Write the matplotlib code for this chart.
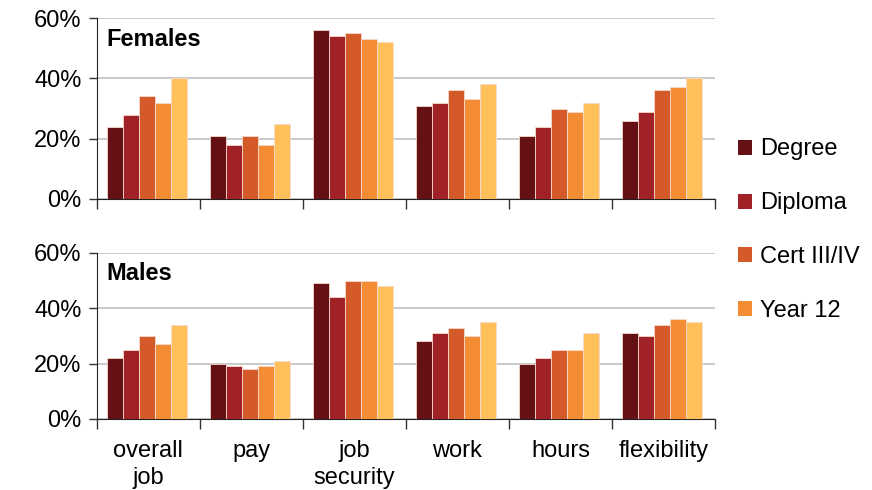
import numpy as np
import matplotlib.pyplot as plt
from matplotlib.patches import Patch

plt.rcParams['font.family'] = ['Liberation Sans', 'DejaVu Sans']

categories = ['overall\njob', 'pay', 'job\nsecurity', 'work', 'hours', 'flexibility']
series = ['Degree', 'Diploma', 'Cert III/IV', 'Year 12', 'Year 11 or below']
colors = ['#641015', '#a02126', '#d45a2a', '#f48c34', '#ffc05c']

# valeurs (%)
females = [
    [24, 21, 56, 31, 21, 26],   # Degree
    [28, 18, 54, 32, 24, 29],   # Diploma
    [34, 21, 55, 36, 30, 36],   # Cert III/IV
    [32, 18, 53, 33, 29, 37],   # Year 12
    [40, 25, 52, 38, 32, 40],   # Year 11 or below
]
males = [
    [22, 20, 49, 28, 20, 31],
    [25, 19, 44, 31, 22, 30],
    [30, 18, 50, 33, 25, 34],
    [27, 19, 50, 30, 25, 36],
    [34, 21, 48, 35, 31, 35],
]

fig = plt.figure(figsize=(8.72, 4.90), dpi=100)
ax_f = fig.add_axes([0.111, 0.594, 0.709, 0.369])
ax_m = fig.add_axes([0.111, 0.145, 0.709, 0.339])

x = np.arange(len(categories))
w = 0.155
fs = 17

def tracer(ax, data, titre):
    for k, vals in enumerate(data):
        ax.bar(x + (k - 2) * w - 0.012, vals, width=w, color=colors[k],
               edgecolor='#f5d9cc', linewidth=0.6, zorder=3)
    ax.set_xlim(-0.5, 5.5)
    ax.set_ylim(0, 60)
    ax.set_yticks([0, 20, 40, 60])
    ax.set_yticklabels(['0%', '20%', '40%', '60%'], fontsize=fs)
    ax.yaxis.grid(True, color='#c0c0c0', linewidth=1.2, zorder=0)
    ax.set_axisbelow(True)
    ax.set_xticks(np.arange(-0.5, 6.0, 1.0))
    ax.set_xticklabels([])
    ax.tick_params(axis='x', length=7, width=1, direction='out', color='#333333')
    ax.tick_params(axis='y', length=6, width=1, direction='out', color='#333333', pad=5)
    ax.spines['top'].set_visible(False)
    ax.spines['right'].set_visible(False)
    ax.spines['left'].set_color('#222222')
    ax.spines['bottom'].set_color('#222222')
    ax.text(0.015, 0.945, titre, transform=ax.transAxes, fontsize=fs,
            fontweight='bold', ha='left', va='top')

tracer(ax_f, females, 'Females')
tracer(ax_m, males, 'Males')

for i, c in enumerate(categories):
    ax_m.text(x[i], -7.7, c, ha='center', va='top', fontsize=fs, linespacing=1.25)

handles = [Patch(facecolor=colors[k], label=series[k]) for k in range(4)]
fig.legend(handles=handles, loc='center left', bbox_to_anchor=(0.835, 0.530),
           frameon=False, fontsize=fs, handlelength=0.6, handleheight=0.6,
           handletextpad=0.35, labelspacing=1.35, borderaxespad=0)

plt.savefig('out.png', dpi=100)
